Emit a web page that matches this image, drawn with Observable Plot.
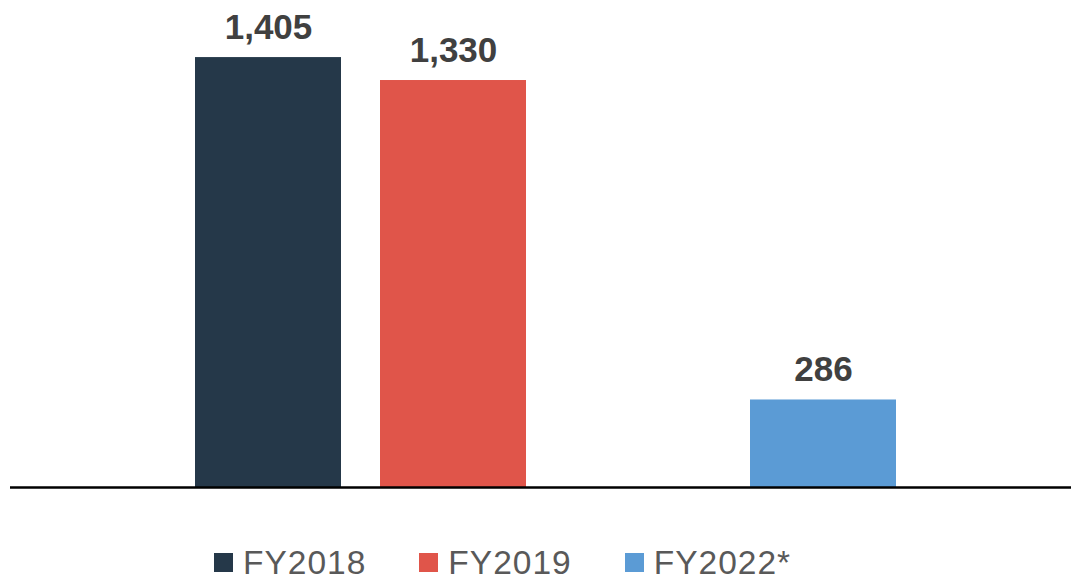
<!DOCTYPE html>
<html>
<head>
<meta charset="utf-8">
<script src="https://cdn.jsdelivr.net/npm/d3@7"></script>
<script src="https://cdn.jsdelivr.net/npm/@observablehq/plot@0.6"></script>
<style>
  html, body { margin: 0; padding: 0; background: #fff; }
  #chart { position: relative; width: 1071px; height: 580px; overflow: hidden; }
  #legend { position: absolute; left: 214px; top: 546px; height: 33.5px; line-height: 33.5px; display: flex; align-items: center; gap: 53px;
    font-family: "Liberation Sans", Arial, sans-serif; font-size: 33.5px; color: #595959; letter-spacing: 1px; }
  .item { display: flex; align-items: center; gap: 10px; height: 33.5px; }
  .sw { width: 19px; height: 19px; display: inline-block; }
</style>
</head>
<body>
<div id="chart"></div>
<script>
const categories = ["FY2018", "FY2019", "FY2022*"];
const values = [1405, 1330, 286];
const slots = ["FY2018", "FY2019", "", "FY2022*"];
const colors = ["#253849", "#E0554A", "#5B9BD5"];

const data = categories.map((c, i) => ({ cat: c, value: values[i] }));

const plot = Plot.plot({
  width: 1071,
  height: 500,
  marginTop: 28,
  marginBottom: 13,
  marginLeft: 10,
  marginRight: 0,
  x: { domain: slots, range: [174.25, 916.25], paddingInner: 0.21, paddingOuter: 0.105, axis: null },
  y: { domain: [0, 1500], axis: null },
  color: { domain: categories, range: colors },
  style: { fontFamily: "'Liberation Sans', Arial, sans-serif", background: "#fff" },
  marks: [
    Plot.barY(data, { x: "cat", y: "value", fill: "cat" }),
    Plot.text(data, {
      x: "cat", y: "value", text: d => d3.format(",")(d.value),
      dy: -19, lineAnchor: "bottom", fontSize: 35, fontWeight: "bold", fill: "#404040",
      letterSpacing: 3
    }),
    Plot.ruleY([0], { stroke: "#000", strokeWidth: 2.5 })
  ]
});
const chart = document.getElementById("chart");
chart.appendChild(plot);

const legend = document.createElement("div");
legend.id = "legend";
categories.forEach((c, i) => {
  const item = document.createElement("div");
  item.className = "item";
  const sw = document.createElement("span");
  sw.className = "sw";
  sw.style.background = colors[i];
  const t = document.createElement("span");
  t.textContent = c;
  item.appendChild(sw);
  item.appendChild(t);
  legend.appendChild(item);
});
chart.appendChild(legend);
</script>
</body>
</html>
